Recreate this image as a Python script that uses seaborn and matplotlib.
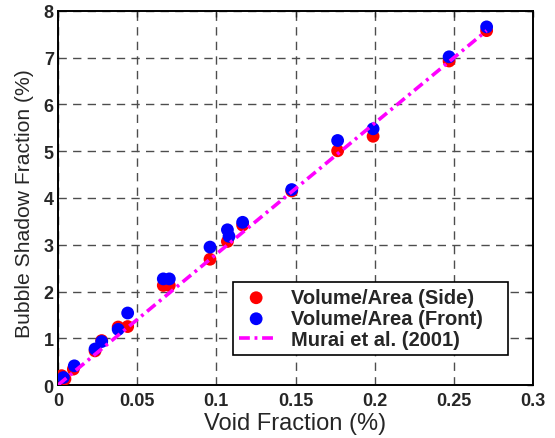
import numpy as np
import pandas as pd
import matplotlib
matplotlib.use("Agg")
import matplotlib.pyplot as plt
import seaborn as sns

# data
void_side = [0.0023, 0.0044, 0.0097, 0.0234, 0.0276, 0.038, 0.044, 0.0665, 0.0703,
             0.096, 0.107, 0.1166, 0.1476, 0.1766, 0.199, 0.247, 0.2707]
shadow_side = [0.20, 0.13, 0.34, 0.73, 0.95, 1.24, 1.25, 2.13, 2.13,
               2.69, 3.07, 3.42, 4.15, 5.01, 5.32, 6.93, 7.58]

void_front = [0.0034, 0.0103, 0.0234, 0.0276, 0.038, 0.044, 0.0665, 0.0703,
              0.096, 0.107, 0.108, 0.1166, 0.1476, 0.1766, 0.199, 0.247, 0.2707]
shadow_front = [0.16, 0.41, 0.77, 0.93, 1.19, 1.54, 2.27, 2.27,
                2.95, 3.32, 3.18, 3.48, 4.18, 5.23, 5.48, 7.02, 7.66]

murai_x = [0.0, 0.2707]
murai_y = [0.0, 7.58]

df_side = pd.DataFrame({'Void': void_side, 'Shadow': shadow_side})
df_front = pd.DataFrame({'Void': void_front, 'Shadow': shadow_front})
df_murai = pd.DataFrame({'Void': murai_x, 'Shadow': murai_y})

sns.set_style("white")
plt.rcParams['font.family'] = ['Liberation Sans', 'DejaVu Sans']

fig = plt.figure(figsize=(5.55, 4.39), dpi=100)
ax = fig.add_axes([0.1045, 0.1207, 0.8559, 0.852])

sns.scatterplot(data=df_side, x='Void', y='Shadow', ax=ax, color='#ff0000', s=85,
                edgecolor='none', label='Volume/Area (Side)', zorder=3)
sns.scatterplot(data=df_front, x='Void', y='Shadow', ax=ax, color='#0000ff', s=85,
                edgecolor='none', label='Volume/Area (Front)', zorder=4)
sns.lineplot(data=df_murai, x='Void', y='Shadow', ax=ax, color='#ff00ff', linewidth=2.6,
             label='Murai et al. (2001)', zorder=5)
ax.lines[-1].set_dashes([3, 1.3, 0.8, 1.3])

ax.set_xlim(0, 0.3)
ax.set_ylim(0, 8)
ax.set_xticks([0, 0.05, 0.1, 0.15, 0.2, 0.25, 0.3])
ax.set_xticklabels(['0', '0.05', '0.1', '0.15', '0.2', '0.25', '0.3'])
ax.set_yticks(range(0, 9))

ax.grid(True, color='0.3', linestyle=(0, (6, 4.5)), linewidth=1.0)
ax.set_axisbelow(True)
ax.tick_params(direction='in', top=True, right=True, length=4, width=1, labelsize=13, pad=3)
ax.tick_params(axis='x', pad=5)
for lab in ax.get_xticklabels() + ax.get_yticklabels():
    lab.set_fontweight('bold')
for sp in ax.spines.values():
    sp.set_color('black')
    sp.set_linewidth(1.4)

ax.set_xlabel('Void Fraction (%)', fontsize=17, labelpad=2)
ax.set_ylabel('Bubble Shadow Fraction (%)', fontsize=15.2)
ax.yaxis.set_label_coords(-0.05, 0.488)

leg = ax.legend(loc='lower left', bbox_to_anchor=(0.3684, 0.08, 0.5789, 0.2), mode='expand',
                borderaxespad=0, frameon=True, fancybox=False, edgecolor='black', framealpha=1,
                prop={'weight': 'bold', 'size': 14.5}, handlelength=1.7,
                borderpad=0.3, labelspacing=0.1, handletextpad=0.9)
leg.get_frame().set_linewidth(1.2)

plt.savefig('out.png', dpi=100)
plt.close()
